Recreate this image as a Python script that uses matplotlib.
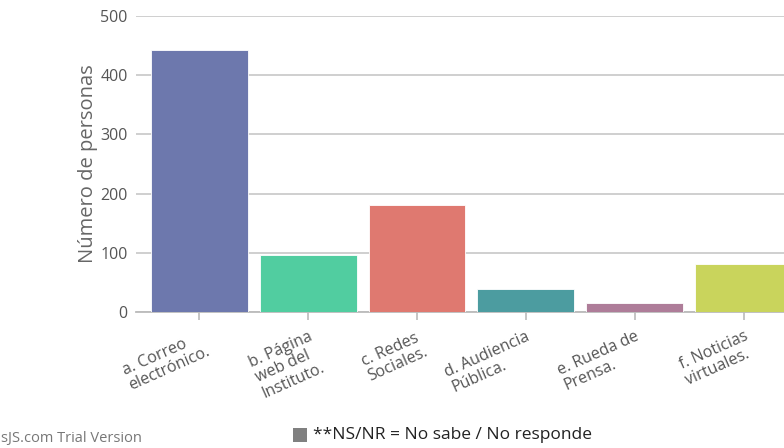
import matplotlib
matplotlib.use("Agg")
import matplotlib.pyplot as plt
from matplotlib.patches import Rectangle

categories = ["a. Correo\nelectrónico.", "b. Página\nweb del\nInstituto.", "c. Redes\nSociales.",
              "d. Audiencia\nPública.", "e. Rueda de\nPrensa.", "f. Noticias\nvirtuales."]
values = [443, 96, 181, 39, 16, 81]
colors = ["#6D78AD", "#51CDA0", "#DF7970", "#4C9CA0", "#AE7D99", "#C9D45C"]
yticks = [0, 100, 200, 300, 400, 500]

plt.rcParams['font.family'] = ['Open Sans', 'DejaVu Sans']

fig = plt.figure(figsize=(7.84, 4.48), dpi=100)
ax = fig.add_axes([136/784, (448-312)/448, 1 - 136/784, (312-16)/448])

x = list(range(len(categories)))
ax.bar(x, values, width=0.89, color=colors, edgecolor="white", linewidth=0.6, zorder=3)

ax.set_xlim(-0.58, 5.37)
ax.set_ylim(0, 500)
ax.set_yticks(yticks)
ax.yaxis.grid(True, color="#cccccc", linewidth=1.3, zorder=0)
ax.set_axisbelow(True)
for s in ["top", "right", "left"]:
    ax.spines[s].set_visible(False)
ax.spines["bottom"].set_color("#bbbbbb")
ax.spines["bottom"].set_linewidth(1.3)
ax.tick_params(axis="y", length=0, pad=6, labelsize=11.5, labelcolor="#555555")
ax.tick_params(axis="x", length=6, width=1.2, color="#bbbbbb", pad=6)
ax.set_xticks(x)
ax.set_xticklabels(categories, rotation=24, ha="right", va="top", rotation_mode="anchor",
                   multialignment="left", fontsize=11.5, color="#555555")
for lbl in ax.get_xticklabels():
    lbl.set_linespacing(1.05)
ax.set_ylabel("Número de personas", fontsize=14.5, color="#666666", labelpad=2)

# legend
fig.patches.append(Rectangle((293/784, (448-442)/448), 14/784, 14/448, transform=fig.transFigure,
                             facecolor="#808080", edgecolor="none"))
fig.text(313/784, (448-435)/448, "**NS/NR = No sabe / No responde", fontsize=12.5, color="#222222",
         va="center", ha="left")
fig.text(1/784, (448-438)/448, "sJS.com Trial Version", fontsize=10.5, color="#777777",
         va="center", ha="left")

fig.savefig("out.png", dpi=100)
